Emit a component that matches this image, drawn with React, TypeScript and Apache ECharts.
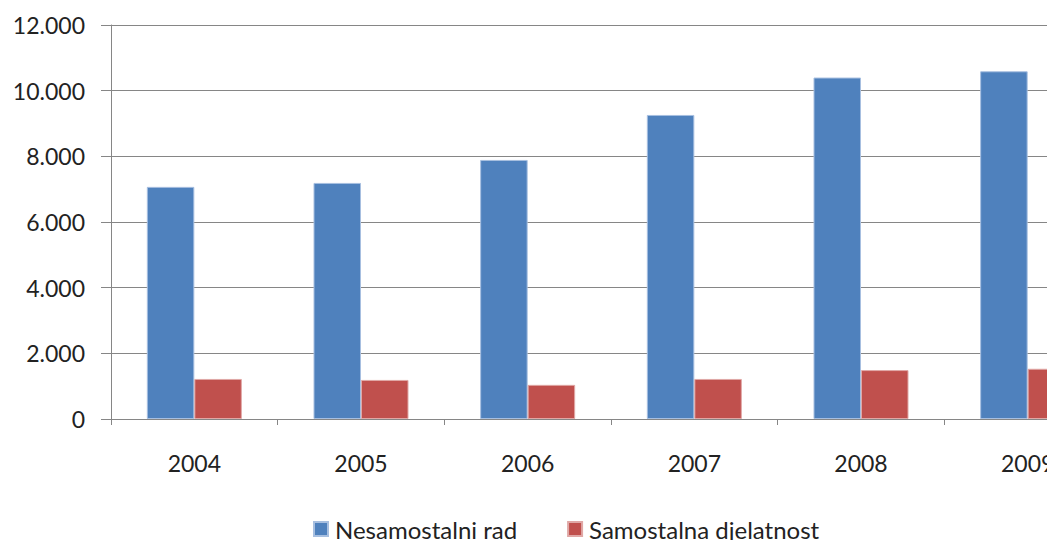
import React, { useEffect, useRef } from "react";
import * as echarts from "echarts";

const categories = ["2004", "2005", "2006", "2007", "2008", "2009"];
const nesamostalniRad = [7070, 7190, 7890, 9260, 10400, 10590];
const samostalnaDjelatnost = [1220, 1190, 1040, 1220, 1490, 1530];
const seriesNames = ["Nesamostalni rad", "Samostalna djelatnost"];

const FONT = "Lato";

export default function App() {
  const ref = useRef<HTMLDivElement>(null);
  useEffect(() => {
    if (!ref.current) return;
    const chart = echarts.init(ref.current, null, { renderer: "svg" });
    chart.setOption({
      animation: false,
      backgroundColor: "#ffffff",
      textStyle: { fontFamily: FONT },
      grid: { left: 111, top: 25, width: 1000, height: 394, containLabel: false, outerBoundsMode: "none" },
      legend: {
        data: seriesNames,
        left: 308,
        top: 512,
        itemWidth: 14,
        itemHeight: 14,
        itemGap: 50,
        icon: "rect",
        textStyle: { fontFamily: FONT, fontSize: 24, color: "#222", padding: [0, 0, 0, 2] },
      },
      xAxis: {
        type: "category",
        data: categories,
        axisLine: { show: true, lineStyle: { color: "#868686", width: 1 } },
        axisTick: { show: true, alignWithLabel: false, length: 6, lineStyle: { color: "#868686" } },
        axisLabel: { fontFamily: FONT, fontSize: 23, color: "#222", margin: 32 },
      },
      yAxis: {
        type: "value",
        min: 0,
        max: 12000,
        interval: 2000,
        axisLine: { show: true, lineStyle: { color: "#868686", width: 1 } },
        axisTick: { show: true, length: 10, lineStyle: { color: "#868686" } },
        splitLine: { show: true, lineStyle: { color: "#868686", width: 1 } },
        axisLabel: {
          fontFamily: FONT,
          fontSize: 23,
          color: "#222",
          margin: 26,
          formatter: (v: number) => (v >= 1000 ? `${Math.floor(v / 1000)}.${String(v % 1000).padStart(3, "0")}` : `${v}`),
        },
      },
      series: [
        {
          name: seriesNames[0],
          type: "bar",
          data: nesamostalniRad,
          barGap: "0%",
          barCategoryGap: "43%",
          itemStyle: { color: "#4F81BD", borderColor: "#A7BFE0", borderWidth: 1 },
        },
        {
          name: seriesNames[1],
          type: "bar",
          data: samostalnaDjelatnost,
          barGap: "0%",
          barCategoryGap: "43%",
          itemStyle: { color: "#C0504D", borderColor: "#E0A8A6", borderWidth: 1 },
        },
      ],
    });
    return () => chart.dispose();
  }, []);
  return <div ref={ref} style={{ position: "fixed", left: 0, top: 0, width: 1047, height: 540 }} />;
}
